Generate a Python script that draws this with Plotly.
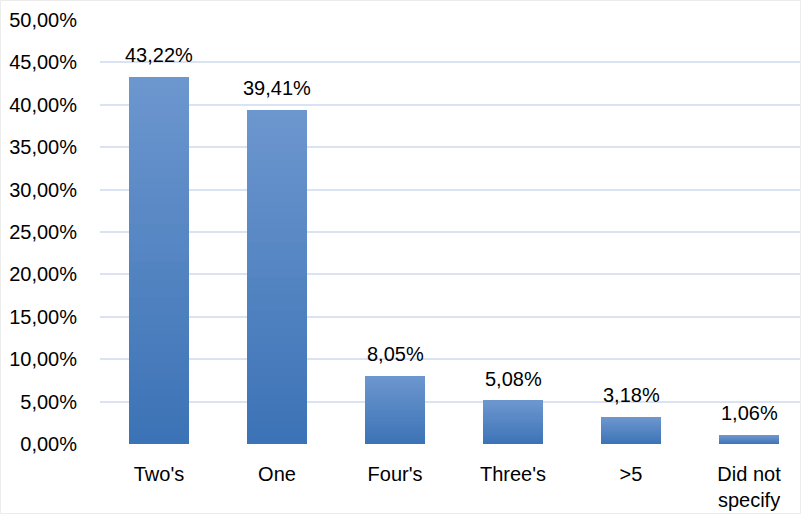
import plotly.graph_objects as go

categories = ["Two's", "One", "Four's", "Three's", ">5", "Did not<br>specify"]
values = [43.22, 39.41, 8.05, 5.08, 3.18, 1.06]
labels = ["43,22%", "39,41%", "8,05%", "5,08%", "3,18%", "1,06%"]
y_ticks = [0, 5, 10, 15, 20, 25, 30, 35, 40, 45, 50]
y_tick_text = ["0,00%", "5,00%", "10,00%", "15,00%", "20,00%", "25,00%",
               "30,00%", "35,00%", "40,00%", "45,00%", "50,00%"]

# gradient simulation: stack N slices per bar, dark at bottom, light at top
N = 40
c_bot = (60, 115, 182)
c_top = (108, 150, 206)

fig = go.Figure()
for i in range(N):
    t = i / (N - 1)
    col = tuple(round(c_bot[k] + (c_top[k] - c_bot[k]) * t) for k in range(3))
    fig.add_trace(go.Bar(
        x=categories, y=[v / N for v in values],
        marker=dict(color="rgb(%d,%d,%d)" % col, line=dict(width=0)),
        width=0.51, hoverinfo="skip", showlegend=False,
    ))

for c, v, lab in zip(categories, values, labels):
    fig.add_annotation(x=c, y=v, text=lab, showarrow=False, yanchor="bottom",
                       yshift=9, font=dict(size=20, color="#000000"))

fig.update_layout(
    width=801, height=514, barmode="stack", bargap=0.49,
    margin=dict(l=100, r=1, t=20, b=70),
    paper_bgcolor="white", plot_bgcolor="white",
    font=dict(family="Liberation Sans, Arial, sans-serif", size=20, color="#000000"),
    shapes=[dict(type="rect", xref="paper", yref="paper",
                 x0=-99.5 / 700, x1=1 + 0.5 / 700, y0=-69.5 / 424, y1=1 + 19.5 / 424,
                 line=dict(color="#ececec", width=1), layer="below")],
)
fig.update_yaxes(range=[0, 50], tickvals=y_ticks, ticktext=y_tick_text,
                 showgrid=True, gridcolor="#d9e3f3", gridwidth=2, zeroline=False,
                 showline=False, ticks="", ticklabelstandoff=22)
fig.update_xaxes(range=[-0.5, 5.432], showgrid=False, showline=False, ticks="",
                 ticklabelstandoff=16)
fig.write_html("out.html", config={"displayModeBar": False},
               post_script="document.body.style.margin='0';document.body.style.overflow='hidden';")
